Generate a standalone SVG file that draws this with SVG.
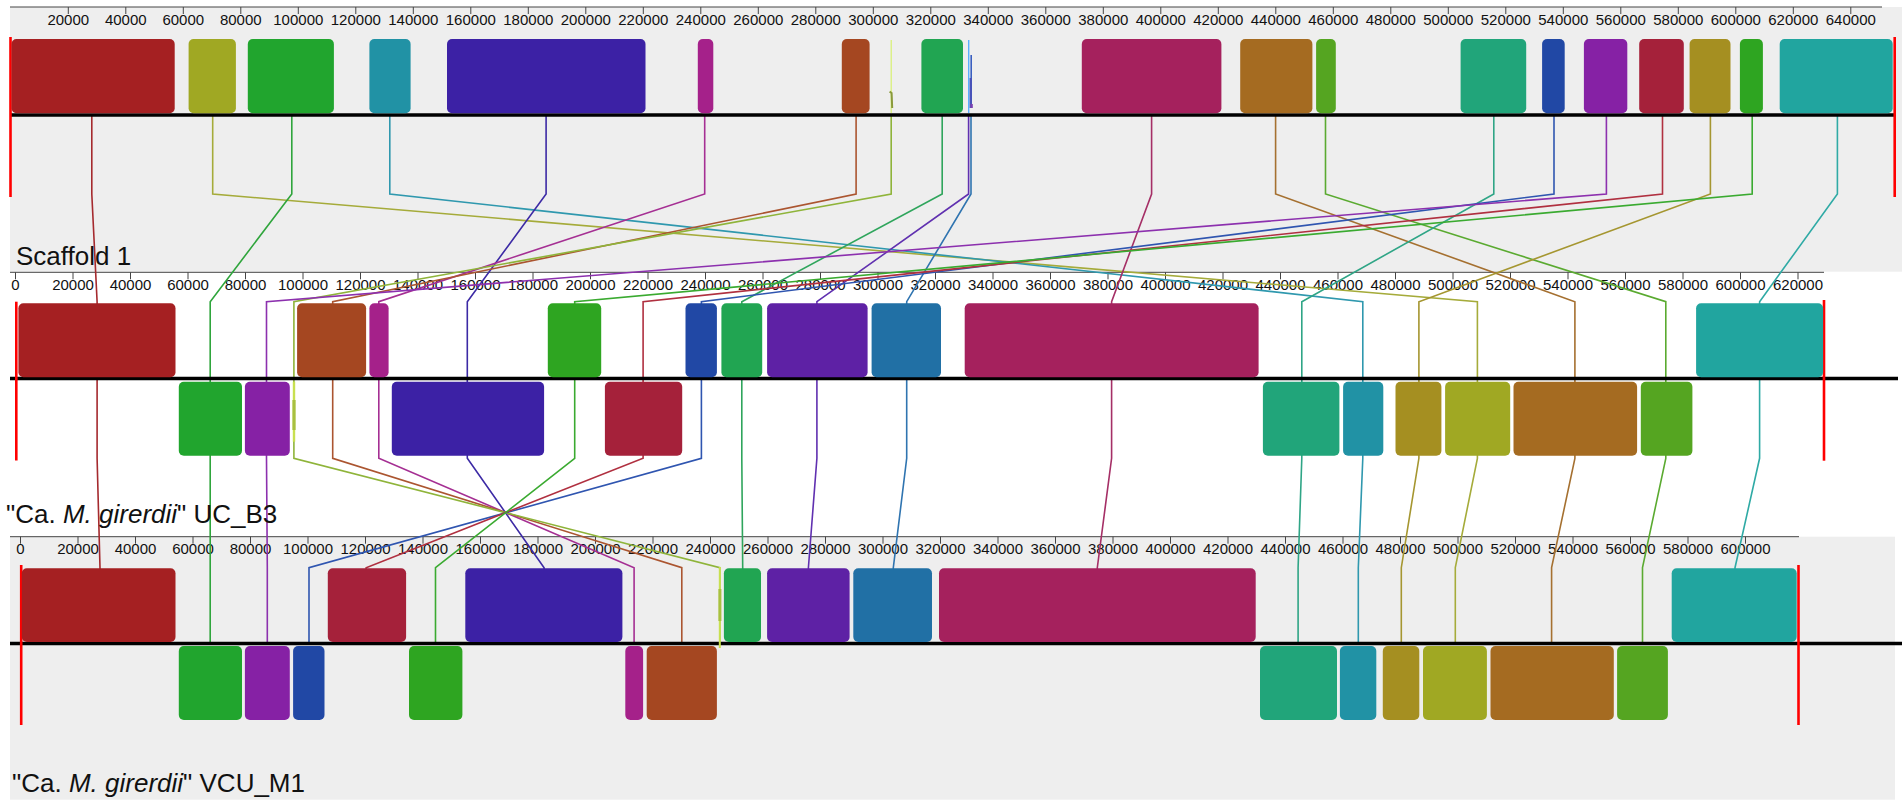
<svg xmlns="http://www.w3.org/2000/svg" width="1902" height="806" viewBox="0 0 1902 806">
<style>
.bg{fill:#eeeeee}
.rl{stroke:#444;stroke-width:1;fill:none}
.tk{stroke:#444;stroke-width:1}
.tl{font-family:"Liberation Sans",Arial,sans-serif;font-size:15px;fill:#111;text-anchor:middle}
.lab{font-family:"Liberation Sans",Arial,sans-serif;font-size:26px;fill:#111}
.axis{stroke:#000;stroke-width:3.5}
.end{stroke:#ff0000;stroke-width:2.6}
.cn path{fill:none;stroke-width:1.6}
.k1{fill:#a52022}.s1{stroke:#a52a2e}
.k2{fill:#a0a823}.s2{stroke:#a5ab3a}
.k3{fill:#21a52e}.s3{stroke:#2fa53c}
.k4{fill:#2192a5}.s4{stroke:#2f98ae}
.k5{fill:#3c21a5}.s5{stroke:#3c2aa5}
.k6{fill:#a5218a}.s6{stroke:#a52f93}
.k7{fill:#a54721}.s7{stroke:#ab5530}
.k8{fill:#cde85a}.s8{stroke:#8fb43a}
.k9{fill:#21a552}.s9{stroke:#2fa55c}
.k10{fill:#5e21a5}.s10{stroke:#6030b0}
.k11{fill:#2170a5}.s11{stroke:#2f74b0}
.k12{fill:#a5215d}.s12{stroke:#a52f66}
.k13{fill:#a56b21}.s13{stroke:#a57030}
.k14{fill:#55a521}.s14{stroke:#5aaa30}
.k15{fill:#21a57a}.s15{stroke:#2fa586}
.k16{fill:#2148a5}.s16{stroke:#2f55b0}
.k17{fill:#8621a5}.s17{stroke:#8c30ae}
.k18{fill:#a5213a}.s18{stroke:#b03040}
.k19{fill:#a58f21}.s19{stroke:#a59630}
.k20{fill:#2ea521}.s20{stroke:#3aaa30}
.k21{fill:#21a59f}.s21{stroke:#2faaa5}
</style>
<rect x="0" y="0" width="1902" height="806" fill="#ffffff"/>
<rect class="bg" x="10" y="7" width="1892" height="264.7"/>
<rect class="bg" x="10" y="536.7" width="1885" height="263"/>

<g id="ruler1">
<line class="rl" x1="10" y1="7" x2="1882" y2="7"/>
<g class="tk">
<line x1="68.3" y1="7" x2="68.3" y2="14"/><line x1="125.8" y1="7" x2="125.8" y2="14"/><line x1="183.3" y1="7" x2="183.3" y2="14"/><line x1="240.8" y1="7" x2="240.8" y2="14"/><line x1="298.3" y1="7" x2="298.3" y2="14"/><line x1="355.8" y1="7" x2="355.8" y2="14"/><line x1="413.3" y1="7" x2="413.3" y2="14"/><line x1="470.8" y1="7" x2="470.8" y2="14"/><line x1="528.3" y1="7" x2="528.3" y2="14"/><line x1="585.8" y1="7" x2="585.8" y2="14"/><line x1="643.3" y1="7" x2="643.3" y2="14"/><line x1="700.8" y1="7" x2="700.8" y2="14"/><line x1="758.3" y1="7" x2="758.3" y2="14"/><line x1="815.8" y1="7" x2="815.8" y2="14"/><line x1="873.3" y1="7" x2="873.3" y2="14"/><line x1="930.8" y1="7" x2="930.8" y2="14"/><line x1="988.3" y1="7" x2="988.3" y2="14"/><line x1="1045.8" y1="7" x2="1045.8" y2="14"/><line x1="1103.3" y1="7" x2="1103.3" y2="14"/><line x1="1160.8" y1="7" x2="1160.8" y2="14"/><line x1="1218.3" y1="7" x2="1218.3" y2="14"/><line x1="1275.8" y1="7" x2="1275.8" y2="14"/><line x1="1333.3" y1="7" x2="1333.3" y2="14"/><line x1="1390.8" y1="7" x2="1390.8" y2="14"/><line x1="1448.3" y1="7" x2="1448.3" y2="14"/><line x1="1505.8" y1="7" x2="1505.8" y2="14"/><line x1="1563.3" y1="7" x2="1563.3" y2="14"/><line x1="1620.8" y1="7" x2="1620.8" y2="14"/><line x1="1678.3" y1="7" x2="1678.3" y2="14"/><line x1="1735.8" y1="7" x2="1735.8" y2="14"/><line x1="1793.3" y1="7" x2="1793.3" y2="14"/><line x1="1850.8" y1="7" x2="1850.8" y2="14"/>
</g>
<g class="tl">
<text x="68.3" y="25">20000</text><text x="125.8" y="25">40000</text><text x="183.3" y="25">60000</text><text x="240.8" y="25">80000</text><text x="298.3" y="25">100000</text><text x="355.8" y="25">120000</text><text x="413.3" y="25">140000</text><text x="470.8" y="25">160000</text><text x="528.3" y="25">180000</text><text x="585.8" y="25">200000</text><text x="643.3" y="25">220000</text><text x="700.8" y="25">240000</text><text x="758.3" y="25">260000</text><text x="815.8" y="25">280000</text><text x="873.3" y="25">300000</text><text x="930.8" y="25">320000</text><text x="988.3" y="25">340000</text><text x="1045.8" y="25">360000</text><text x="1103.3" y="25">380000</text><text x="1160.8" y="25">400000</text><text x="1218.3" y="25">420000</text><text x="1275.8" y="25">440000</text><text x="1333.3" y="25">460000</text><text x="1390.8" y="25">480000</text><text x="1448.3" y="25">500000</text><text x="1505.8" y="25">520000</text><text x="1563.3" y="25">540000</text><text x="1620.8" y="25">560000</text><text x="1678.3" y="25">580000</text><text x="1735.8" y="25">600000</text><text x="1793.3" y="25">620000</text><text x="1850.8" y="25">640000</text>
</g>
</g>

<g id="ruler2">
<line class="rl" x1="10" y1="272.3" x2="1824" y2="272.3"/>
<g class="tk">
<line x1="15.5" y1="272.3" x2="15.5" y2="279.3"/><line x1="73" y1="272.3" x2="73" y2="279.3"/><line x1="130.5" y1="272.3" x2="130.5" y2="279.3"/><line x1="188" y1="272.3" x2="188" y2="279.3"/><line x1="245.5" y1="272.3" x2="245.5" y2="279.3"/><line x1="303" y1="272.3" x2="303" y2="279.3"/><line x1="360.5" y1="272.3" x2="360.5" y2="279.3"/><line x1="418" y1="272.3" x2="418" y2="279.3"/><line x1="475.5" y1="272.3" x2="475.5" y2="279.3"/><line x1="533" y1="272.3" x2="533" y2="279.3"/><line x1="590.5" y1="272.3" x2="590.5" y2="279.3"/><line x1="648" y1="272.3" x2="648" y2="279.3"/><line x1="705.5" y1="272.3" x2="705.5" y2="279.3"/><line x1="763" y1="272.3" x2="763" y2="279.3"/><line x1="820.5" y1="272.3" x2="820.5" y2="279.3"/><line x1="878" y1="272.3" x2="878" y2="279.3"/><line x1="935.5" y1="272.3" x2="935.5" y2="279.3"/><line x1="993" y1="272.3" x2="993" y2="279.3"/><line x1="1050.5" y1="272.3" x2="1050.5" y2="279.3"/><line x1="1108" y1="272.3" x2="1108" y2="279.3"/><line x1="1165.5" y1="272.3" x2="1165.5" y2="279.3"/><line x1="1223" y1="272.3" x2="1223" y2="279.3"/><line x1="1280.5" y1="272.3" x2="1280.5" y2="279.3"/><line x1="1338" y1="272.3" x2="1338" y2="279.3"/><line x1="1395.5" y1="272.3" x2="1395.5" y2="279.3"/><line x1="1453" y1="272.3" x2="1453" y2="279.3"/><line x1="1510.5" y1="272.3" x2="1510.5" y2="279.3"/><line x1="1568" y1="272.3" x2="1568" y2="279.3"/><line x1="1625.5" y1="272.3" x2="1625.5" y2="279.3"/><line x1="1683" y1="272.3" x2="1683" y2="279.3"/><line x1="1740.5" y1="272.3" x2="1740.5" y2="279.3"/><line x1="1798" y1="272.3" x2="1798" y2="279.3"/>
</g>
<g class="tl">
<text x="15.5" y="290">0</text><text x="73" y="290">20000</text><text x="130.5" y="290">40000</text><text x="188" y="290">60000</text><text x="245.5" y="290">80000</text><text x="303" y="290">100000</text><text x="360.5" y="290">120000</text><text x="418" y="290">140000</text><text x="475.5" y="290">160000</text><text x="533" y="290">180000</text><text x="590.5" y="290">200000</text><text x="648" y="290">220000</text><text x="705.5" y="290">240000</text><text x="763" y="290">260000</text><text x="820.5" y="290">280000</text><text x="878" y="290">300000</text><text x="935.5" y="290">320000</text><text x="993" y="290">340000</text><text x="1050.5" y="290">360000</text><text x="1108" y="290">380000</text><text x="1165.5" y="290">400000</text><text x="1223" y="290">420000</text><text x="1280.5" y="290">440000</text><text x="1338" y="290">460000</text><text x="1395.5" y="290">480000</text><text x="1453" y="290">500000</text><text x="1510.5" y="290">520000</text><text x="1568" y="290">540000</text><text x="1625.5" y="290">560000</text><text x="1683" y="290">580000</text><text x="1740.5" y="290">600000</text><text x="1798" y="290">620000</text>
</g>
</g>

<g id="ruler3">
<line class="rl" x1="10" y1="536.7" x2="1799" y2="536.7"/>
<g class="tk">
<line x1="20.5" y1="536.7" x2="20.5" y2="543.7"/><line x1="78" y1="536.7" x2="78" y2="543.7"/><line x1="135.5" y1="536.7" x2="135.5" y2="543.7"/><line x1="193" y1="536.7" x2="193" y2="543.7"/><line x1="250.5" y1="536.7" x2="250.5" y2="543.7"/><line x1="308" y1="536.7" x2="308" y2="543.7"/><line x1="365.5" y1="536.7" x2="365.5" y2="543.7"/><line x1="423" y1="536.7" x2="423" y2="543.7"/><line x1="480.5" y1="536.7" x2="480.5" y2="543.7"/><line x1="538" y1="536.7" x2="538" y2="543.7"/><line x1="595.5" y1="536.7" x2="595.5" y2="543.7"/><line x1="653" y1="536.7" x2="653" y2="543.7"/><line x1="710.5" y1="536.7" x2="710.5" y2="543.7"/><line x1="768" y1="536.7" x2="768" y2="543.7"/><line x1="825.5" y1="536.7" x2="825.5" y2="543.7"/><line x1="883" y1="536.7" x2="883" y2="543.7"/><line x1="940.5" y1="536.7" x2="940.5" y2="543.7"/><line x1="998" y1="536.7" x2="998" y2="543.7"/><line x1="1055.5" y1="536.7" x2="1055.5" y2="543.7"/><line x1="1113" y1="536.7" x2="1113" y2="543.7"/><line x1="1170.5" y1="536.7" x2="1170.5" y2="543.7"/><line x1="1228" y1="536.7" x2="1228" y2="543.7"/><line x1="1285.5" y1="536.7" x2="1285.5" y2="543.7"/><line x1="1343" y1="536.7" x2="1343" y2="543.7"/><line x1="1400.5" y1="536.7" x2="1400.5" y2="543.7"/><line x1="1458" y1="536.7" x2="1458" y2="543.7"/><line x1="1515.5" y1="536.7" x2="1515.5" y2="543.7"/><line x1="1573" y1="536.7" x2="1573" y2="543.7"/><line x1="1630.5" y1="536.7" x2="1630.5" y2="543.7"/><line x1="1688" y1="536.7" x2="1688" y2="543.7"/><line x1="1745.5" y1="536.7" x2="1745.5" y2="543.7"/>
</g>
<g class="tl">
<text x="20.5" y="554">0</text><text x="78" y="554">20000</text><text x="135.5" y="554">40000</text><text x="193" y="554">60000</text><text x="250.5" y="554">80000</text><text x="308" y="554">100000</text><text x="365.5" y="554">120000</text><text x="423" y="554">140000</text><text x="480.5" y="554">160000</text><text x="538" y="554">180000</text><text x="595.5" y="554">200000</text><text x="653" y="554">220000</text><text x="710.5" y="554">240000</text><text x="768" y="554">260000</text><text x="825.5" y="554">280000</text><text x="883" y="554">300000</text><text x="940.5" y="554">320000</text><text x="998" y="554">340000</text><text x="1055.5" y="554">360000</text><text x="1113" y="554">380000</text><text x="1170.5" y="554">400000</text><text x="1228" y="554">420000</text><text x="1285.5" y="554">440000</text><text x="1343" y="554">460000</text><text x="1400.5" y="554">480000</text><text x="1458" y="554">500000</text><text x="1515.5" y="554">520000</text><text x="1573" y="554">540000</text><text x="1630.5" y="554">560000</text><text x="1688" y="554">580000</text><text x="1745.5" y="554">600000</text>
</g>
</g>

<g id="connectors" class="cn">
<path class="s1" d="M91.8 115V194L97.1 301.7V458.3L100 567.7V643"/>
<path class="s2" d="M212.7 115V194L1477.4 301.7V458.3L1455.3 567.7V643"/>
<path class="s3" d="M291.8 115V194L210.2 301.7V458.3L210.2 567.7V643"/>
<path class="s4" d="M389.8 115V194L1362.8 301.7V458.3L1358.3 567.7V643"/>
<path class="s5" d="M546.1 115V194L467.3 301.7V458.3L544.1 567.7V643"/>
<path class="s6" d="M704.7 115V194L378.8 301.7V458.3L634.1 567.7V643"/>
<path class="s7" d="M856.1 115V194L332.7 301.7V458.3L681.8 567.7V643"/>
<path class="s8" d="M891.2 115V194L293.9 301.7V458.3L719.8 567.7V643"/>
<path class="s9" d="M942.2 115V194L741.8 301.7V458.3L742.7 567.7V643"/>
<path class="s10" d="M968.6 115V194L816.9 301.7V458.3L808.4 567.7V643"/>
<path class="s11" d="M971 115V194L906.7 301.7V458.3L893.3 567.7V643"/>
<path class="s12" d="M1151.6 115V194L1111.6 301.7V458.3L1097.3 567.7V643"/>
<path class="s13" d="M1275.6 115V194L1574.9 301.7V458.3L1551.6 567.7V643"/>
<path class="s14" d="M1325.5 115V194L1665.8 301.7V458.3L1642.5 567.7V643"/>
<path class="s15" d="M1493.8 115V194L1301.8 301.7V458.3L1298.1 567.7V643"/>
<path class="s16" d="M1554 115V194L701.4 301.7V458.3L309 567.7V643"/>
<path class="s17" d="M1606.4 115V194L266.5 301.7V458.3L267.3 567.7V643"/>
<path class="s18" d="M1662.5 115V194L643.1 301.7V458.3L366.1 567.7V643"/>
<path class="s19" d="M1710.4 115V194L1418.9 301.7V458.3L1401.3 567.7V643"/>
<path class="s20" d="M1752.2 115V194L574.7 301.7V458.3L435.5 567.7V643"/>
<path class="s21" d="M1837.4 115V194L1759.6 301.7V458.3L1735 567.7V643"/>
</g>

<g id="scaffold1">
<line class="axis" x1="10" y1="115" x2="1896" y2="115"/>
<line class="end" x1="10.5" y1="37" x2="10.5" y2="197"/>
<line class="end" x1="1894.7" y1="37" x2="1894.7" y2="197"/>
<g id="s1-b1"><rect class="k1" x="11.5" y="39" width="163.2" height="74.3" rx="5"/></g>
<g id="s1-b2"><rect class="k2" x="188.6" y="39" width="47.3" height="74.3" rx="5"/></g>
<g id="s1-b3"><rect class="k3" x="247.8" y="39" width="86.1" height="74.3" rx="5"/></g>
<g id="s1-b4"><rect class="k4" x="369.4" y="39" width="41.2" height="74.3" rx="5"/></g>
<g id="s1-b5"><rect class="k5" x="447" y="39" width="198.5" height="74.3" rx="5"/></g>
<g id="s1-b6"><rect class="k6" x="697.8" y="39" width="15.5" height="74.3" rx="5"/></g>
<g id="s1-b7"><rect class="k7" x="841.8" y="39" width="27.8" height="74.3" rx="5"/></g>
<g id="s1-b8"><rect x="890.6" y="40" width="1.2" height="73" fill="#d8f070"/><path d="M889.6 91.7L891.6 93L892.2 108" fill="none" stroke="#8a9a3a" stroke-width="2"/></g>
<g id="s1-b9"><rect class="k9" x="921.4" y="39" width="41.6" height="74.3" rx="5"/></g>
<g id="s1-b10"><rect x="968" y="40" width="1.4" height="73" fill="#5aaeff"/><rect x="970.4" y="55" width="1.6" height="53" fill="#3a5fc0"/><rect x="969.6" y="78" width="2.2" height="30" fill="#4a52b8"/><rect x="970.4" y="104" width="2.4" height="4" fill="#7a40b0"/></g>
<g id="s1-b11"><rect class="k12" x="1081.8" y="39" width="139.6" height="74.3" rx="5"/></g>
<g id="s1-b12"><rect class="k13" x="1240.2" y="39" width="72.2" height="74.3" rx="5"/></g>
<g id="s1-b13"><rect class="k14" x="1316.1" y="39" width="19.7" height="74.3" rx="5"/></g>
<g id="s1-b14"><rect class="k15" x="1460.6" y="39" width="65.6" height="74.3" rx="5"/></g>
<g id="s1-b15"><rect class="k16" x="1542.1" y="39" width="22.6" height="74.3" rx="5"/></g>
<g id="s1-b16"><rect class="k17" x="1583.9" y="39" width="43.4" height="74.3" rx="5"/></g>
<g id="s1-b17"><rect class="k18" x="1639.2" y="39" width="44.6" height="74.3" rx="5"/></g>
<g id="s1-b18"><rect class="k19" x="1689.6" y="39" width="40.9" height="74.3" rx="5"/></g>
<g id="s1-b19"><rect class="k20" x="1739.9" y="39" width="23" height="74.3" rx="5"/></g>
<g id="s1-b20"><rect class="k21" x="1779.7" y="39" width="113" height="74.3" rx="5"/></g>
<text class="lab" x="16" y="265">Scaffold 1</text>
</g>

<g id="ucb3">
<line class="axis" x1="10" y1="378.6" x2="1898" y2="378.6"/>
<line class="end" x1="16.3" y1="301.7" x2="16.3" y2="460.5"/>
<line class="end" x1="1824" y1="300" x2="1824" y2="460.7"/>
<g id="u-b1"><rect class="k1" x="18.4" y="303.3" width="157.1" height="74" rx="5"/></g>
<g id="u-b7"><rect class="k7" x="297.1" y="303.3" width="69" height="74" rx="5"/></g>
<g id="u-b6"><rect class="k6" x="369.4" y="303.3" width="19.2" height="74" rx="5"/></g>
<g id="u-b19"><rect class="k20" x="547.8" y="303.3" width="53.4" height="74" rx="5"/></g>
<g id="u-b15"><rect class="k16" x="685.5" y="303.3" width="31.4" height="74" rx="5"/></g>
<g id="u-b9"><rect class="k9" x="721.4" y="303.3" width="40.8" height="74" rx="5"/></g>
<g id="u-b10a"><rect class="k10" x="767.1" y="303.3" width="100.5" height="74" rx="5"/></g>
<g id="u-b10b"><rect class="k11" x="871.6" y="303.3" width="69.4" height="74" rx="5"/></g>
<g id="u-b11"><rect class="k12" x="964.7" y="303.3" width="293.9" height="74" rx="5"/></g>
<g id="u-b20"><rect class="k21" x="1696.1" y="303.3" width="127" height="74" rx="5"/></g>
<g id="u-b3"><rect class="k3" x="178.8" y="381.7" width="63.2" height="74" rx="5"/></g>
<g id="u-b16"><rect class="k17" x="244.9" y="381.7" width="44.9" height="74" rx="5"/></g>
<g id="u-b8"><rect x="292.8" y="381.7" width="2.4" height="60" fill="#c8e050"/><rect x="292.4" y="400" width="3.2" height="30" fill="#a8c040"/></g>
<g id="u-b5"><rect class="k5" x="391.8" y="381.7" width="152.3" height="74" rx="5"/></g>
<g id="u-b17"><rect class="k18" x="604.9" y="381.7" width="77.3" height="74" rx="5"/></g>
<g id="u-b14"><rect class="k15" x="1262.9" y="381.7" width="76.5" height="74" rx="5"/></g>
<g id="u-b4"><rect class="k4" x="1343.1" y="381.7" width="40.2" height="74" rx="5"/></g>
<g id="u-b18"><rect class="k19" x="1395.5" y="381.7" width="45.9" height="74" rx="5"/></g>
<g id="u-b2"><rect class="k2" x="1445.1" y="381.7" width="65.1" height="74" rx="5"/></g>
<g id="u-b12"><rect class="k13" x="1513.5" y="381.7" width="123.6" height="74" rx="5"/></g>
<g id="u-b13"><rect class="k14" x="1640.8" y="381.7" width="51.6" height="74" rx="5"/></g>
<text class="lab" x="6" y="523">"Ca. <tspan font-style="italic">M. girerdii</tspan>" UC_B3</text>
</g>

<g id="vcum1">
<line class="axis" x1="10" y1="643.5" x2="1902" y2="643.5"/>
<line class="end" x1="21.2" y1="565" x2="21.2" y2="725"/>
<line class="end" x1="1798.5" y1="565" x2="1798.5" y2="725"/>
<g id="v-b1"><rect class="k1" x="21.8" y="568.3" width="153.7" height="73.7" rx="5"/></g>
<g id="v-b17"><rect class="k18" x="327.8" y="568.3" width="78.3" height="73.7" rx="5"/></g>
<g id="v-b5"><rect class="k5" x="465.3" y="568.3" width="157.1" height="73.7" rx="5"/></g>
<g id="v-b9"><rect class="k9" x="723.9" y="568.3" width="37.1" height="73.7" rx="5"/></g>
<g id="v-b10a"><rect class="k10" x="767.1" y="568.3" width="82.5" height="73.7" rx="5"/></g>
<g id="v-b10b"><rect class="k11" x="853.3" y="568.3" width="78.7" height="73.7" rx="5"/></g>
<g id="v-b11"><rect class="k12" x="939" y="568.3" width="316.7" height="73.7" rx="5"/></g>
<g id="v-b20"><rect class="k21" x="1671.7" y="568.3" width="125" height="73.7" rx="5"/></g>
<g id="v-b3"><rect class="k3" x="178.8" y="646" width="63.2" height="74" rx="5"/></g>
<g id="v-b16"><rect class="k17" x="244.9" y="646" width="44.9" height="74" rx="5"/></g>
<g id="v-b15"><rect class="k16" x="293.1" y="646" width="31.4" height="74" rx="5"/></g>
<g id="v-b19"><rect class="k20" x="409" y="646" width="53.4" height="74" rx="5"/></g>
<g id="v-b6"><rect class="k6" x="625.3" y="646" width="17.8" height="74" rx="5"/></g>
<g id="v-b7"><rect class="k7" x="646.7" y="646" width="70.2" height="74" rx="5"/></g>
<g id="v-b8"><rect x="718.8" y="567" width="2" height="81" fill="#c8e050"/><rect x="718.4" y="589" width="3" height="32" fill="#a8c040"/></g>
<g id="v-b14"><rect class="k15" x="1260" y="646" width="77" height="74" rx="5"/></g>
<g id="v-b4"><rect class="k4" x="1339.9" y="646" width="36.4" height="74" rx="5"/></g>
<g id="v-b18"><rect class="k19" x="1382.8" y="646" width="36.5" height="74" rx="5"/></g>
<g id="v-b2"><rect class="k2" x="1423" y="646" width="63.9" height="74" rx="5"/></g>
<g id="v-b12"><rect class="k13" x="1490.5" y="646" width="123.3" height="74" rx="5"/></g>
<g id="v-b13"><rect class="k14" x="1617.1" y="646" width="50.8" height="74" rx="5"/></g>
<text class="lab" x="12" y="792">"Ca. <tspan font-style="italic">M. girerdii</tspan>" VCU_M1</text>
</g>
</svg>
